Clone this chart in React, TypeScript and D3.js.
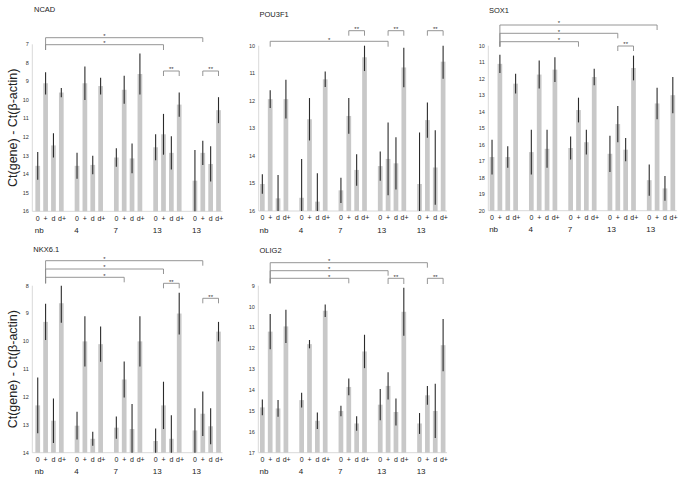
import React from "react";
import * as d3 from "d3";

// ---------- data ----------
const groups = ["nb", "4", "7", "13", "13b"];
const groupLabels = ["nb", "4", "7", "13", "13"];
const conditions = ["0", "+", "d", "d+"];
const yAxisLabel = "Ct(gene) - Ct(β-actin)";

// means and errors, group-major (nb, 4, 7, 13, 13b) x (0, +, d, d+)
const ncadMean = [13.55, 9.1, 12.45, 9.6, 13.55, 9.1, 13.5, 9.25, 13.1, 9.45, 13.15, 8.6, 12.55, 11.85, 12.85, 10.25, 14.35, 12.85, 13.45, 10.55];
const ncadErr = [0.75, 0.6, 0.65, 0.25, 0.7, 0.9, 0.5, 0.45, 0.5, 0.75, 0.8, 1.1, 0.7, 1.1, 0.9, 0.65, 1.65, 0.65, 0.95, 0.7];

const pouMean = [15.02, 11.94, 15.54, 11.94, 15.52, 12.67, 15.66, 11.22, 15.25, 12.55, 14.51, 10.42, 14.37, 14.11, 14.27, 10.79, 15.02, 12.7, 14.42, 10.58];
const pouErr = [0.35, 0.32, 0.85, 0.7, 1.41, 0.77, 1.03, 0.28, 0.46, 0.65, 0.57, 0.5, 0.53, 1.32, 0.95, 0.72, 1.87, 0.64, 1.35, 0.62];

const soxMean = [16.75, 11.1, 16.75, 12.3, 16.45, 11.75, 16.25, 11.45, 16.2, 13.9, 15.85, 11.9, 16.55, 14.75, 16.3, 11.35, 18.15, 13.5, 18.65, 13.0];
const soxErr = [1.05, 0.55, 0.65, 0.6, 1.35, 0.85, 1.15, 0.75, 0.7, 0.75, 0.75, 0.5, 1.1, 1.1, 0.7, 0.75, 0.95, 0.95, 0.75, 1.1];

const nkxMean = [12.3, 9.3, 12.85, 8.63, 13.03, 10.0, 13.5, 10.1, 13.1, 11.37, 13.15, 10.0, 13.58, 12.3, 13.5, 9.0, 13.2, 12.6, 13.05, 9.65];
const nkxErr = [1.0, 0.65, 0.8, 0.7, 0.5, 0.9, 0.25, 0.63, 0.4, 0.65, 0.9, 0.9, 0.45, 0.85, 0.85, 0.75, 0.8, 0.8, 0.65, 0.35];

const oligMean = [14.83, 11.2, 14.88, 10.95, 14.48, 11.8, 15.47, 10.2, 15.0, 13.85, 15.6, 12.15, 14.7, 13.8, 15.05, 10.25, 15.6, 14.25, 15.0, 11.85];
const oligErr = [0.38, 0.85, 0.4, 0.8, 0.35, 0.2, 0.4, 0.3, 0.25, 0.4, 0.35, 0.8, 0.75, 0.65, 0.65, 1.15, 0.5, 0.45, 1.3, 1.25];

// significance brackets: [group, condition] pairs
type Br = { a: [number, number]; b: [number, number]; label: string };
const ncadBrackets: Br[] = [
  { a: [0, 1], b: [4, 1], label: "*" },
  { a: [0, 1], b: [3, 1], label: "*" },
  { a: [3, 1], b: [3, 3], label: "**" },
  { a: [4, 1], b: [4, 3], label: "**" },
];
const pouBrackets: Br[] = [
  { a: [0, 1], b: [3, 1], label: "*" },
  { a: [2, 1], b: [2, 3], label: "**" },
  { a: [3, 1], b: [3, 3], label: "**" },
  { a: [4, 1], b: [4, 3], label: "**" },
];
const soxBrackets: Br[] = [
  { a: [0, 1], b: [4, 1], label: "*" },
  { a: [0, 1], b: [3, 1], label: "*" },
  { a: [0, 1], b: [2, 1], label: "*" },
  { a: [3, 1], b: [3, 3], label: "**" },
];
const nkxBrackets: Br[] = [
  { a: [0, 1], b: [4, 1], label: "*" },
  { a: [0, 1], b: [3, 1], label: "*" },
  { a: [0, 1], b: [2, 1], label: "*" },
  { a: [3, 1], b: [3, 3], label: "**" },
  { a: [4, 1], b: [4, 3], label: "**" },
];
const oligBrackets: Br[] = [
  { a: [0, 1], b: [4, 1], label: "*" },
  { a: [0, 1], b: [3, 1], label: "*" },
  { a: [0, 1], b: [2, 1], label: "*" },
  { a: [3, 1], b: [3, 3], label: "**" },
  { a: [4, 1], b: [4, 3], label: "**" },
];

// ---------- layout ----------
type BL = { y: number; endL: number; endR: number };
type Panel = {
  title: string;
  mean: number[];
  err: number[];
  domain: [number, number];
  x0: number;
  axisX: number;
  yTop: number;
  yBot: number;
  titleX: number;
  titleY: number;
  ylabel: boolean;
  brackets: Br[];
  layout: BL[];
};

const panels: Panel[] = [
  {
    title: "NCAD", mean: ncadMean, err: ncadErr, domain: [7, 16],
    x0: 33.8, axisX: 32.3, yTop: 44.3, yBot: 211.3, titleX: 34, titleY: 12, ylabel: true,
    brackets: ncadBrackets,
    layout: [
      { y: 37.7, endL: 50, endR: 42 },
      { y: 44.7, endL: 50, endR: 50 },
      { y: 71, endL: 76, endR: 76 },
      { y: 71, endL: 76, endR: 76 },
    ],
  },
  {
    title: "POU3F1", mean: pouMean, err: pouErr, domain: [10, 16],
    x0: 258.4, axisX: 258.7, yTop: 45.7, yBot: 211, titleX: 259.5, titleY: 16.5, ylabel: false,
    brackets: pouBrackets,
    layout: [
      { y: 41.3, endL: 46.7, endR: 46.7 },
      { y: 30.7, endL: 35.7, endR: 35.7 },
      { y: 30.7, endL: 35.7, endR: 35.7 },
      { y: 30.7, endL: 35.7, endR: 35.7 },
    ],
  },
  {
    title: "SOX1", mean: soxMean, err: soxErr, domain: [10, 20],
    x0: 488.1, axisX: 488.3, yTop: 45.7, yBot: 210.7, titleX: 489, titleY: 12.5, ylabel: false,
    brackets: soxBrackets,
    layout: [
      { y: 25, endL: 46.7, endR: 30 },
      { y: 33.3, endL: 46.7, endR: 38.3 },
      { y: 41.7, endL: 46.7, endR: 46.7 },
      { y: 46, endL: 51, endR: 51 },
    ],
  },
  {
    title: "NKX6.1", mean: nkxMean, err: nkxErr, domain: [8, 14],
    x0: 33.8, axisX: 32.3, yTop: 285.7, yBot: 452.7, titleX: 33.3, titleY: 251.7, ylabel: true,
    brackets: nkxBrackets,
    layout: [
      { y: 260.7, endL: 283.3, endR: 265.7 },
      { y: 269, endL: 283.3, endR: 274 },
      { y: 277.3, endL: 283.3, endR: 282.3 },
      { y: 283.3, endL: 288.3, endR: 288.3 },
      { y: 298.3, endL: 303.3, endR: 303.3 },
    ],
  },
  {
    title: "OLIG2", mean: oligMean, err: oligErr, domain: [9, 17],
    x0: 258.4, axisX: 258.3, yTop: 285.7, yBot: 452.7, titleX: 259.5, titleY: 252.5, ylabel: false,
    brackets: oligBrackets,
    layout: [
      { y: 262.7, endL: 283.3, endR: 267.7 },
      { y: 270.7, endL: 283.3, endR: 275.7 },
      { y: 278.3, endL: 283.3, endR: 283.3 },
      { y: 278.3, endL: 284, endR: 284 },
      { y: 278.3, endL: 284, endR: 284 },
    ],
  },
];

const SLOT = 7.86;
const FONT = "'Liberation Sans', Arial, sans-serif";
const BAR = "#c8c8c8";
const ERR = "#2b2b2b";
const BRK = "#8a8a8a";

function PanelView({ p }: { p: Panel }) {
  const width = SLOT * 24;
  const gx = d3.scaleBand<string>().domain(groups).range([p.x0, p.x0 + width]).paddingInner(0.2).paddingOuter(0);
  const cx = d3.scaleBand<string>().domain(conditions).range([0, gx.bandwidth()]).padding(0);
  const y = d3.scaleLinear().domain(p.domain).range([p.yTop, p.yBot]).clamp(true);
  const ticks = d3.range(p.domain[0], p.domain[1] + 1);
  const bw = cx.bandwidth() * 0.6;
  const center = (g: number, c: number) => (gx(groups[g]) as number) + (cx(conditions[c]) as number) + cx.bandwidth() / 2;
  const right = p.x0 + width;

  return (
    <g>
      <text x={p.titleX} y={p.titleY} fontSize={7.5} fontFamily={FONT} fill="#222">{p.title}</text>
      {/* axes */}
      <line x1={p.axisX} x2={p.axisX} y1={p.yTop} y2={p.yBot} stroke="#d9d9d9" strokeWidth={1} />
      <line x1={p.axisX} x2={right} y1={p.yBot} y2={p.yBot} stroke="#d9d9d9" strokeWidth={1} />
      {ticks.map((t) => (
        <text key={t} x={p.axisX - 3.5} y={y(t)} dy="0.35em" textAnchor="end" fontSize={5.5} fontFamily={FONT} fill="#333">{t}</text>
      ))}
      {/* bars */}
      {groups.map((g, gi) =>
        conditions.map((c, ci) => {
          const i = gi * 4 + ci;
          const m = p.mean[i];
          const e = p.err[i];
          const xc = center(gi, ci);
          return (
            <g key={g + c}>
              <rect x={xc - bw / 2} width={bw} y={y(m)} height={p.yBot - y(m)} fill={BAR} />
              <line x1={xc} x2={xc} y1={y(m - e)} y2={y(m + e)} stroke={ERR} strokeWidth={1.1} />
            </g>
          );
        })
      )}
      {/* category labels */}
      {groups.map((g, gi) =>
        conditions.map((c, ci) => (
          <text key={"l" + g + c} x={center(gi, ci) + (c === "d+" ? 0.8 : 0)} y={p.yBot + 9.2} textAnchor="middle" fontSize={7} fontFamily={FONT} fill="#222">{c}</text>
        ))
      )}
      {groups.map((g, gi) => (
        <text key={"g" + g} x={center(gi, 0) - bw / 2 - 0.5} y={p.yBot + 21.5} fontSize={8} fontFamily={FONT} fill="#222">{groupLabels[gi]}</text>
      ))}
      {/* brackets */}
      {p.brackets.map((b, bi) => {
        const L = p.layout[bi];
        const xa = center(b.a[0], b.a[1]);
        const xb = center(b.b[0], b.b[1]);
        const lx = b.label === "*" ? (center(0, 1) + center(3, 1)) / 2 : (xa + xb) / 2;
        return (
          <g key={"b" + bi}>
            <path d={`M${xa},${L.endL}V${L.y}H${xb}V${L.endR}`} fill="none" stroke={BRK} strokeWidth={0.9} />
            <text x={lx} y={L.y + 0.3} textAnchor="middle" fontSize={6} fontFamily={FONT} fill="#333">{b.label}</text>
          </g>
        );
      })}
      {p.ylabel && (
        <text transform={`translate(13,${(p.yTop + p.yBot) / 2}) rotate(-90)`} textAnchor="middle" dy="0.35em" fontSize={12.5} fontFamily={FONT} fill="#222">{yAxisLabel}</text>
      )}
    </g>
  );
}

export default function App() {
  return (
    <svg width={689} height={478} style={{ position: "absolute", left: 0, top: 0, background: "#fff" }}>
      <rect width={689} height={478} fill="#fff" />
      {panels.map((p) => (
        <PanelView key={p.title} p={p} />
      ))}
    </svg>
  );
}
